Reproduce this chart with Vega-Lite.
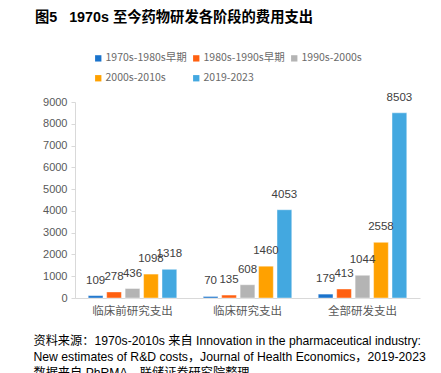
{
  "$schema": "https://vega.github.io/schema/vega-lite/v6.json",
  "width": 345,
  "height": 196,
  "autosize": {"type": "none"},
  "padding": {"left": 75, "top": 102, "right": 21, "bottom": 75},
  "background": "white",
  "title": {
    "text": "图5\u00a0\u00a0 1970s 至今药物研发各阶段的费用支出",
    "anchor": "start",
    "frame": "group",
    "dx": -40,
    "offset": 28,
    "fontSize": 14.3,
    "fontWeight": "bold",
    "font": "Liberation Sans, Noto Sans CJK SC",
    "color": "#000000"
  },
  "data": {
    "values": [
      {"category": "临床前研究支出", "period": "1970s-1980s早期", "value": 109},
      {"category": "临床前研究支出", "period": "1980s-1990s早期", "value": 278},
      {"category": "临床前研究支出", "period": "1990s-2000s", "value": 436},
      {"category": "临床前研究支出", "period": "2000s-2010s", "value": 1098},
      {"category": "临床前研究支出", "period": "2019-2023", "value": 1318},
      {"category": "临床研究支出", "period": "1970s-1980s早期", "value": 70},
      {"category": "临床研究支出", "period": "1980s-1990s早期", "value": 135},
      {"category": "临床研究支出", "period": "1990s-2000s", "value": 608},
      {"category": "临床研究支出", "period": "2000s-2010s", "value": 1460},
      {"category": "临床研究支出", "period": "2019-2023", "value": 4053},
      {"category": "全部研发支出", "period": "1970s-1980s早期", "value": 179},
      {"category": "全部研发支出", "period": "1980s-1990s早期", "value": 413},
      {"category": "全部研发支出", "period": "1990s-2000s", "value": 1044},
      {"category": "全部研发支出", "period": "2000s-2010s", "value": 2558},
      {"category": "全部研发支出", "period": "2019-2023", "value": 8503}
    ]
  },
  "encoding": {
    "x": {
      "field": "category",
      "type": "nominal",
      "sort": ["临床前研究支出", "临床研究支出", "全部研发支出"],
      "scale": {"paddingInner": 0.23, "paddingOuter": 0.115},
      "axis": {
        "labelAngle": 0,
        "labelFont": "Noto Sans CJK SC",
        "labelFontSize": 11.5,
        "labelColor": "#595959",
        "labelPadding": 7,
        "ticks": false,
        "domainColor": "#d9d9d9",
        "title": [
          "资料来源：1970s-2010s 来自 Innovation in the pharmaceutical industry:",
          "New estimates of R&D costs，Journal of Health Economics，2019-2023",
          "数据来自 PhRMA，联储证券研究院整理"
        ],
        "titleAnchor": "start",
        "titleAlign": "left",
        "titleBaseline": "alphabetic",
        "titleX": -42,
        "titleY": 46,
        "titleLineHeight": 16,
        "titleFont": "Liberation Sans, Noto Sans CJK SC",
        "titleFontSize": 12.2,
        "titleFontWeight": "normal",
        "titleColor": "#000000"
      }
    },
    "xOffset": {
      "field": "period",
      "type": "nominal",
      "sort": ["1970s-1980s早期", "1980s-1990s早期", "1990s-2000s", "2000s-2010s", "2019-2023"],
      "scale": {"paddingInner": 0.2, "paddingOuter": 0}
    },
    "y": {
      "field": "value",
      "type": "quantitative",
      "scale": {"domain": [0, 9000], "nice": false},
      "axis": {
        "values": [0, 1000, 2000, 3000, 4000, 5000, 6000, 7000, 8000, 9000],
        "format": "d",
        "title": null,
        "grid": false,
        "labelFont": "Liberation Sans",
        "labelFontSize": 11,
        "labelColor": "#595959",
        "tickColor": "#d9d9d9",
        "tickSize": 4,
        "labelPadding": 4,
        "domainColor": "#d9d9d9"
      }
    }
  },
  "layer": [
    {
      "mark": {"type": "bar", "stroke": "#ffffff", "strokeWidth": 0.6, "strokeOpacity": 0.7},
      "encoding": {
        "color": {
          "field": "period",
          "type": "nominal",
          "sort": ["1970s-1980s早期", "1980s-1990s早期", "1990s-2000s", "2000s-2010s", "2019-2023"],
          "scale": {
            "domain": ["1970s-1980s早期", "1980s-1990s早期", "1990s-2000s", "2000s-2010s", "2019-2023"],
            "range": ["#1a73cc", "#ff6010", "#b4b4b4", "#ffa100", "#43a8e0"]
          },
          "legend": {
            "title": null,
            "orient": "none",
            "legendX": 18,
            "legendY": -49,
            "direction": "horizontal",
            "columns": 3,
            "symbolType": "square",
            "symbolSize": 40,
            "symbolStrokeWidth": 0,
            "labelFont": "Noto Sans CJK SC",
            "labelFontSize": 10.5,
            "labelColor": "#6a6a6a",
            "labelOffset": 2,
            "columnPadding": 4,
            "rowPadding": 9
          }
        }
      }
    },
    {
      "mark": {"type": "text", "dy": -15, "baseline": "middle", "font": "Liberation Sans", "fontSize": 11.5, "color": "#404040"},
      "encoding": {
        "text": {"field": "value", "type": "quantitative"}
      }
    }
  ],
  "config": {"view": {"stroke": null}}
}
